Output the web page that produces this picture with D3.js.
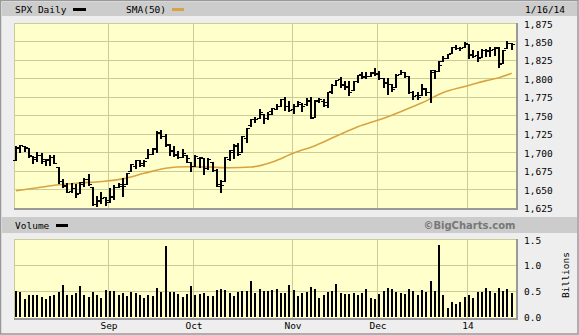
<!DOCTYPE html>
<html>
<head>
  <meta charset="utf-8">
  <style>
    html, body { margin: 0; overflow: hidden; background: #eeeeee; }
    svg { display: block; }
    text { font-family: "DejaVu Sans Mono", monospace; font-size: 9.5px; fill: #000; }
    .grid line { stroke: #cccc99; stroke-width: 1px; shape-rendering: crispEdges; }
    .bars line { stroke: #000; shape-rendering: crispEdges; }
  </style>
  <script src="https://d3js.org/d3.v7.min.js"></script>
</head>
<body>
  <svg id="chart" width="579" height="335"></svg>
  <script>
    // trading days shown (Aug 1 2013 .. Jan 16 2014)
    var dates = [
      "2013-08-01","2013-08-02","2013-08-05","2013-08-06","2013-08-07","2013-08-08","2013-08-09","2013-08-12","2013-08-13","2013-08-14","2013-08-15","2013-08-16","2013-08-19","2013-08-20","2013-08-21","2013-08-22","2013-08-23","2013-08-26","2013-08-27","2013-08-28","2013-08-29","2013-08-30",
      "2013-09-03","2013-09-04","2013-09-05","2013-09-06","2013-09-09","2013-09-10","2013-09-11","2013-09-12","2013-09-13","2013-09-16","2013-09-17","2013-09-18","2013-09-19","2013-09-20","2013-09-23","2013-09-24","2013-09-25","2013-09-26","2013-09-27","2013-09-30",
      "2013-10-01","2013-10-02","2013-10-03","2013-10-04","2013-10-07","2013-10-08","2013-10-09","2013-10-10","2013-10-11","2013-10-14","2013-10-15","2013-10-16","2013-10-17","2013-10-18","2013-10-21","2013-10-22","2013-10-23","2013-10-24","2013-10-25","2013-10-28","2013-10-29","2013-10-30","2013-10-31",
      "2013-11-01","2013-11-04","2013-11-05","2013-11-06","2013-11-07","2013-11-08","2013-11-11","2013-11-12","2013-11-13","2013-11-14","2013-11-15","2013-11-18","2013-11-19","2013-11-20","2013-11-21","2013-11-22","2013-11-25","2013-11-26","2013-11-27","2013-11-29",
      "2013-12-02","2013-12-03","2013-12-04","2013-12-05","2013-12-06","2013-12-09","2013-12-10","2013-12-11","2013-12-12","2013-12-13","2013-12-16","2013-12-17","2013-12-18","2013-12-19","2013-12-20","2013-12-23","2013-12-24","2013-12-26","2013-12-27","2013-12-30","2013-12-31",
      "2014-01-02","2014-01-03","2014-01-06","2014-01-07","2014-01-08","2014-01-09","2014-01-10","2014-01-13","2014-01-14","2014-01-15","2014-01-16"
    ];

    var opens = [
      1689,1706,1708,1706,1695,1693,1696,1688,1691,1694,1680,1661,1655,1647,1651,1645,1660,1664,1653,1630,1634,1639,
      1636,1641,1653,1657,1657,1675,1681,1689,1685,1692,1698,1706,1727,1722,1711,1703,1698,1694,1696,1687,
      1682,1692,1692,1679,1687,1676,1657,1661,1691,1700,1709,1700,1720,1737,1745,1746,1752,1747,1756,1759,1763,1772,1763,
      1759,1763,1766,1765,1771,1748,1770,1770,1764,1783,1791,1799,1791,1790,1784,1797,1806,1803,1803,1808,
      1807,1800,1794,1793,1788,1806,1808,1803,1782,1778,1777,1786,1781,1809,1810,1823,1828,1835,1843,1841,1843,
      1846,1833,1832,1829,1838,1839,1840,1841,1821,1841,1848
    ];
    var highs = [
      1708,1710,1709,1706,1695,1700,1699,1691,1697,1696,1680,1664,1659,1659,1657,1660,1665,1670,1653,1641,1646,1640,
      1651,1656,1659,1665,1672,1684,1689,1690,1689,1705,1706,1729,1730,1725,1711,1708,1702,1704,1696,1687,
      1697,1694,1692,1692,1687,1677,1662,1693,1703,1711,1712,1722,1733,1745,1748,1759,1752,1754,1760,1765,1772,1775,1769,
      1766,1769,1767,1774,1775,1771,1773,1772,1782,1792,1798,1802,1796,1796,1797,1805,1808,1808,1808,1814,
      1810,1800,1800,1793,1806,1812,1809,1803,1783,1781,1792,1787,1811,1811,1824,1830,1833,1843,1845,1842,1849,
      1846,1838,1837,1840,1840,1843,1843,1843,1839,1851,1848
    ];
    var lows = [
      1689,1701,1702,1693,1685,1688,1686,1683,1683,1685,1659,1653,1646,1646,1639,1645,1655,1656,1629,1627,1631,1628,
      1633,1637,1653,1641,1657,1675,1679,1682,1682,1692,1698,1700,1720,1709,1697,1695,1692,1693,1687,1675,
      1682,1680,1670,1677,1675,1655,1646,1661,1689,1692,1696,1700,1714,1736,1741,1746,1740,1745,1752,1758,1763,1757,1756,
      1753,1762,1756,1764,1746,1748,1768,1762,1761,1780,1791,1788,1785,1777,1784,1795,1801,1801,1803,1804,
      1799,1788,1779,1783,1788,1806,1802,1780,1772,1772,1777,1777,1768,1801,1810,1823,1828,1835,1840,1839,1842,
      1828,1829,1824,1829,1831,1830,1832,1816,1821,1841,1840
    ];
    var closes = [
      1707,1710,1707,1697,1691,1697,1691,1689,1694,1685,1661,1656,1646,1652,1643,1657,1664,1657,1630,1635,1638,1633,
      1640,1653,1655,1655,1672,1684,1689,1683,1688,1698,1705,1726,1722,1710,1702,1697,1693,1699,1692,1682,
      1695,1694,1679,1691,1676,1655,1656,1693,1703,1710,1698,1722,1733,1745,1745,1755,1746,1752,1760,1762,1772,1763,1757,
      1762,1768,1763,1770,1747,1771,1772,1768,1782,1791,1798,1792,1788,1781,1796,1805,1802,1803,1807,1806,
      1801,1795,1793,1785,1805,1808,1803,1782,1776,1775,1787,1781,1811,1810,1818,1828,1833,1842,1841,1841,1848,
      1832,1831,1827,1838,1837,1838,1842,1819,1839,1848,1846
    ];

    // volume, billions of shares
    var volumes = [
      0.50,0.48,0.35,0.42,0.42,0.42,0.38,0.35,0.39,0.41,0.48,0.62,0.42,0.41,0.46,0.60,0.42,0.38,0.48,0.42,0.36,0.52,
      0.50,0.50,0.42,0.46,0.40,0.48,0.46,0.42,0.36,0.42,0.40,0.56,0.48,1.36,0.48,0.48,0.44,0.38,0.44,0.60,
      0.42,0.44,0.46,0.40,0.40,0.52,0.54,0.52,0.46,0.40,0.48,0.50,0.50,0.68,0.46,0.54,0.50,0.50,0.52,0.54,0.46,0.46,0.62,
      0.52,0.40,0.46,0.48,0.58,0.54,0.36,0.42,0.48,0.50,0.64,0.46,0.44,0.44,0.46,0.42,0.46,0.54,0.36,0.34,
      0.44,0.50,0.56,0.54,0.48,0.46,0.44,0.54,0.50,0.42,0.52,0.48,0.68,0.50,1.38,0.42,0.17,0.29,0.25,0.29,0.38,
      0.42,0.36,0.48,0.48,0.56,0.50,0.46,0.56,0.50,0.54,0.46
    ];

    // SMA(50)
    var smaDates = ["2013-08-01","2013-08-08","2013-08-15","2013-08-22","2013-08-29","2013-09-06","2013-09-13","2013-09-20","2013-09-27",
      "2013-10-04","2013-10-11","2013-10-18","2013-10-25","2013-11-01","2013-11-08","2013-11-15","2013-11-22","2013-12-02","2013-12-09",
      "2013-12-16","2013-12-23","2013-12-31","2014-01-08","2014-01-13","2014-01-16"];
    var smaValues = [1648,1652,1656,1658.5,1660.5,1664,1671.5,1678.5,1680.5,
      1680,1679,1680,1687,1699,1709,1722,1734.5,1744,1755,
      1767,1781,1789,1797,1801,1807];

    var priceTicks = [1625,1650,1675,1700,1725,1750,1775,1800,1825,1850,1875];
    var volTicks = [0,0.5,1,1.5];
    var monthDates = ["2013-09-03","2013-10-01","2013-11-01","2013-12-02","2014-01-02"];
    var monthLabels = ["Sep","Oct","Nov","Dec","14"];

    var svg = d3.select("#chart");
    var W = 579, H = 335;
    var plotL = 14, plotR = 516;
    var price = {top: 23, bottom: 208};
    var vol = {top: 239, bottom: 318};

    var x = d3.scalePoint().domain(dates).range([16, 511.7]);
    var y = d3.scaleLinear().domain([1625, 1875]).range([price.bottom - 0.3, price.top]);
    var yv = d3.scaleLinear().domain([0, 1.5]).range([vol.bottom - 1.3, vol.top]);
    function px(d) { return Math.round(x(d)); }

    // frame
    svg.append("rect").attr("width", W).attr("height", H).attr("fill", "#eeeeee");
    svg.append("rect").attr("x", 0.5).attr("y", 0.5).attr("width", W - 1.5).attr("height", H - 1.5)
      .attr("fill", "none").attr("stroke", "#999").attr("stroke-width", 1.5);
    svg.append("rect").attr("x", 2).attr("y", 2).attr("width", W - 4).attr("height", 14).attr("fill", "#cccccc");
    svg.append("rect").attr("x", 2).attr("y", 217).attr("width", W - 4).attr("height", 16).attr("fill", "#cccccc");

    // header
    svg.append("text").attr("x", 15).attr("y", 13).text("SPX Daily");
    svg.append("rect").attr("x", 73).attr("y", 8).attr("width", 13).attr("height", 3).attr("fill", "#000");
    svg.append("text").attr("x", 126).attr("y", 13).text("SMA(50)");
    svg.append("rect").attr("x", 172).attr("y", 8).attr("width", 12).attr("height", 3).attr("fill", "#d8a443");
    svg.append("text").attr("x", 525).attr("y", 13).text("1/16/14");

    svg.append("text").attr("x", 15).attr("y", 229).text("Volume");
    svg.append("rect").attr("x", 56).attr("y", 224).attr("width", 12).attr("height", 3).attr("fill", "#000");
    svg.append("text").attr("x", 515.5).attr("y", 229).attr("text-anchor", "end")
      .style("font-family", "'DejaVu Sans', sans-serif").style("font-weight", "bold").style("font-size", "10px")
      .style("fill", "#777").text("\u00a9BigCharts.com");

    function panel(top, bottom, ys, ticks) {
      svg.append("rect").attr("x", plotL).attr("y", top).attr("width", plotR - plotL).attr("height", bottom - top)
        .attr("fill", "#ffffcc");
      var g = svg.append("g").attr("class", "grid");
      g.selectAll(".h").data(ticks.filter(function(t, i) { return i > 0 && i < ticks.length - 1; }))
        .enter().append("line")
        .attr("x1", plotL).attr("x2", plotR)
        .attr("y1", function(d) { return Math.round(ys(d)) + 0.5; })
        .attr("y2", function(d) { return Math.round(ys(d)) + 0.5; });
      g.selectAll(".v").data(monthDates).enter().append("line")
        .attr("x1", function(d) { return px(d) - 1.5; }).attr("x2", function(d) { return px(d) - 1.5; })
        .attr("y1", top).attr("y2", bottom);
      g.append("line").attr("x1", plotL + 0.5).attr("x2", plotL + 0.5).attr("y1", top).attr("y2", bottom);
      g.append("line").attr("x1", plotL).attr("x2", plotR).attr("y1", top + 0.5).attr("y2", top + 0.5);
      // darker right and bottom edges
      svg.append("line").attr("x1", plotL).attr("x2", plotR + 2).attr("y1", bottom + 1).attr("y2", bottom + 1)
        .attr("stroke", "#999").attr("stroke-width", 2).style("shape-rendering", "crispEdges");
      svg.append("line").attr("x1", plotR + 1).attr("x2", plotR + 1).attr("y1", top).attr("y2", bottom + 2)
        .attr("stroke", "#999").attr("stroke-width", 2).style("shape-rendering", "crispEdges");
    }
    panel(price.top, price.bottom, y, priceTicks);
    panel(vol.top, vol.bottom, yv, volTicks);

    // axes
    var fmt = d3.format(",");
    var yAxis = d3.axisRight(y).tickValues(priceTicks).tickSize(0).tickPadding(0).tickFormat(fmt);
    var ya = svg.append("g").attr("transform", "translate(524,1)").call(yAxis);
    ya.select(".domain").remove();
    ya.selectAll("text").attr("font-family", null).attr("font-size", null);

    var vAxis = d3.axisRight(yv).tickValues(volTicks).tickSize(0).tickPadding(0).tickFormat(d3.format(".1f"));
    var va = svg.append("g").attr("transform", "translate(524,1)").call(vAxis);
    va.select(".domain").remove();
    va.selectAll("text").attr("font-family", null).attr("font-size", null);

    svg.append("text").attr("transform", "translate(569,275) rotate(-90)").attr("text-anchor", "middle").text("Billions");

    svg.append("g").selectAll("text").data(monthDates).enter().append("text")
      .attr("x", function(d) { return px(d) - 1; }).attr("y", 329).attr("text-anchor", "middle")
      .text(function(d, i) { return monthLabels[i]; });

    // SMA line
    var sma = smaDates.map(function(d, i) { return [x(d), y(smaValues[i])]; });
    svg.append("path").attr("d", d3.line().curve(d3.curveMonotoneX)(sma))
      .attr("fill", "none").attr("stroke", "#d8a443").attr("stroke-width", 1.6);

    // OHLC bars
    var bars = svg.append("g").attr("class", "bars").selectAll("g").data(dates).enter().append("g");
    bars.append("line").attr("stroke-width", 2)
      .attr("x1", function(d) { return px(d); }).attr("x2", function(d) { return px(d); })
      .attr("y1", function(d, i) { return Math.round(y(highs[i])); })
      .attr("y2", function(d, i) { return Math.round(y(lows[i])) + 1; });
    bars.append("line").attr("stroke-width", 1)
      .attr("x1", function(d) { return px(d) - 3; }).attr("x2", function(d) { return px(d); })
      .attr("y1", function(d, i) { return Math.round(y(opens[i])) + 0.5; })
      .attr("y2", function(d, i) { return Math.round(y(opens[i])) + 0.5; });
    bars.append("line").attr("stroke-width", 1)
      .attr("x1", function(d) { return px(d); }).attr("x2", function(d) { return px(d) + 3; })
      .attr("y1", function(d, i) { return Math.round(y(closes[i])) + 0.5; })
      .attr("y2", function(d, i) { return Math.round(y(closes[i])) + 0.5; });

    // volume bars
    svg.append("g").attr("class", "bars").selectAll("line").data(dates).enter().append("line")
      .attr("stroke-width", 2)
      .attr("x1", function(d) { return px(d); }).attr("x2", function(d) { return px(d); })
      .attr("y1", function(d, i) { return Math.round(yv(volumes[i])); })
      .attr("y2", yv(0));
  </script>
</body>
</html>
